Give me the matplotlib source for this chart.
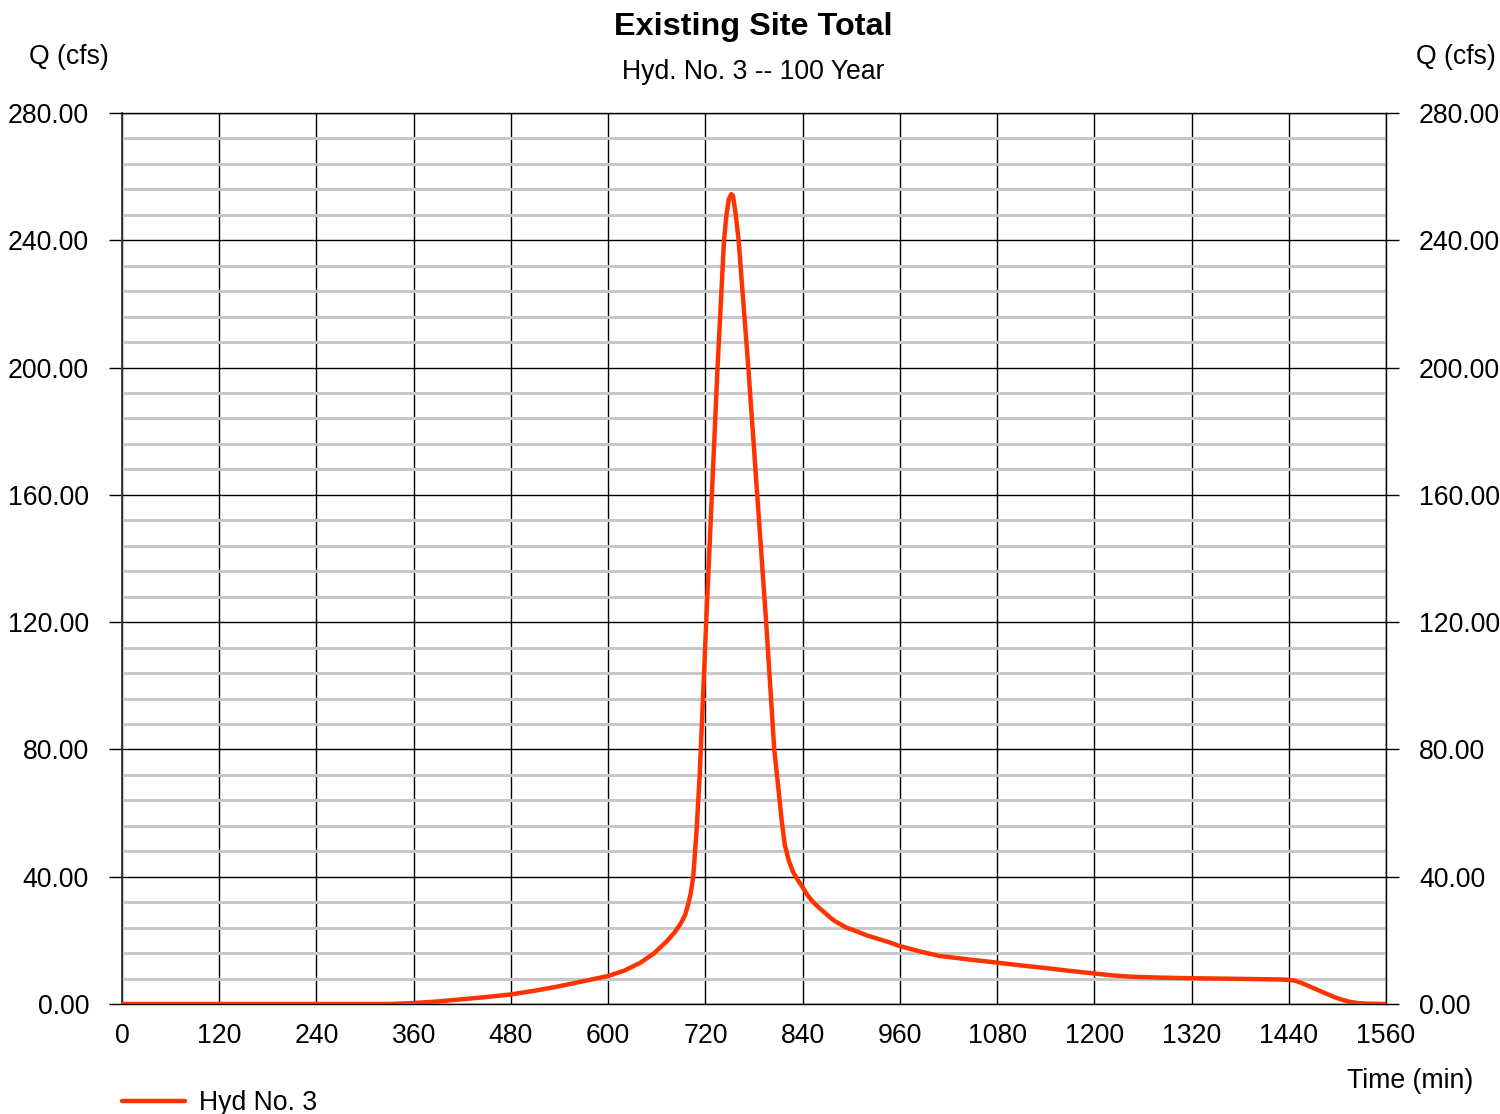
import numpy as np
import matplotlib.pyplot as plt
from matplotlib.ticker import MultipleLocator

plt.rcParams['font.family'] = ['Liberation Sans', 'DejaVu Sans']

# hydrograph: time (min), flow (cfs)
time_min = [0, 120, 240, 330, 360, 390, 420, 450, 480, 510, 540, 570, 600, 620,
            640, 656, 672, 682, 690, 695, 699, 702, 705, 709, 713, 717, 721, 728,
            735, 743, 746, 749, 752, 754, 757, 761, 773, 784, 795, 805, 810, 814,
            818, 823, 828, 834, 840, 846, 853, 860, 866, 873, 880, 887, 894, 907,
            920, 934, 948, 960, 985, 1009, 1045, 1080, 1110, 1140, 1170, 1200,
            1222, 1244, 1280, 1320, 1380, 1430, 1440, 1448, 1456, 1465, 1474,
            1485, 1495, 1505, 1515, 1525, 1536, 1560]
flow_cfs = [0, 0, 0, 0, 0.3, 0.8, 1.5, 2.2, 3.0, 4.2, 5.6, 7.2, 8.8, 10.5,
            13.0, 15.8, 19.6, 22.5, 25.5, 28.0, 31.5, 35.0, 40.0, 54.0, 72.0,
            96.0, 120.0, 160.0, 200.0, 240.0, 248.0, 253.0, 254.5, 254.0, 249.0,
            240.0, 200.0, 160.0, 120.0, 80.0, 68.0, 58.0, 50.0, 45.0, 41.6, 39.0,
            36.7, 34.2, 32.0, 30.3, 29.0, 27.4, 26.0, 25.0, 24.0, 22.8, 21.5,
            20.4, 19.3, 18.2, 16.5, 15.1, 14.0, 13.0, 12.1, 11.3, 10.4, 9.6, 9.0,
            8.6, 8.3, 8.1, 7.9, 7.7, 7.6, 7.3, 6.6, 5.6, 4.6, 3.4, 2.3, 1.4, 0.7,
            0.3, 0.1, 0]

x_ticks = [0, 120, 240, 360, 480, 600, 720, 840, 960, 1080, 1200, 1320, 1440, 1560]
y_ticks = [0, 40, 80, 120, 160, 200, 240, 280]

fs = 19.2

fig = plt.figure(figsize=(15, 11.14), dpi=100)
ax = fig.add_axes([122/1500, 1 - 1004/1114, 1264/1500, 891/1114])

ax.set_xlim(0, 1560)
ax.set_ylim(0, 280)

# grid
ax.yaxis.set_minor_locator(MultipleLocator(8))
ax.grid(which='minor', axis='y', color='#c8c8c8', lw=2.2, zorder=0)
ax.grid(which='major', axis='both', color='black', lw=1.0, zorder=1)
ax.set_axisbelow(True)

ax.plot(time_min, flow_cfs, color='#ff3300', lw=3.2, label='Hyd No. 3',
        solid_joinstyle='round', solid_capstyle='round', zorder=3)

ax.set_xticks(x_ticks)
ax.set_yticks(y_ticks)
ax.set_yticklabels([f'{v:.2f}' for v in y_ticks])
ax.tick_params(axis='x', length=0, pad=14, labelsize=fs)
ax.tick_params(axis='y', which='major', length=9.4, width=1, pad=14.3, labelsize=fs,
               left=True, right=True, labelleft=True, labelright=True)
ax.tick_params(axis='y', which='minor', length=0)

for s in ['top', 'right', 'bottom']:
    ax.spines[s].set_linewidth(1.0)
ax.spines['left'].set_linewidth(1.3)
ax.spines['left'].set_color('#333333')

fig.text(753/1500, 1 - 27/1114, 'Existing Site Total', ha='center', va='center',
         fontsize=23.3, fontweight='bold')
fig.text(753/1500, 1 - 72/1114, 'Hyd. No. 3 -- 100 Year', ha='center', va='center',
         fontsize=fs)
fig.text(69/1500, 1 - 57/1114, 'Q (cfs)', ha='center', va='center', fontsize=fs)
fig.text(1456/1500, 1 - 57/1114, 'Q (cfs)', ha='center', va='center', fontsize=fs)
fig.text(1473/1500, 1 - 1081/1114, 'Time (min)', ha='right', va='center', fontsize=fs)

ax.legend(loc='center left', bbox_to_anchor=(122/1500, 1 - 1103/1114),
          bbox_transform=fig.transFigure, frameon=False, fontsize=fs,
          borderpad=0, borderaxespad=0, handlelength=2.35, handletextpad=0.55)

fig.savefig('out.png', dpi=100)
